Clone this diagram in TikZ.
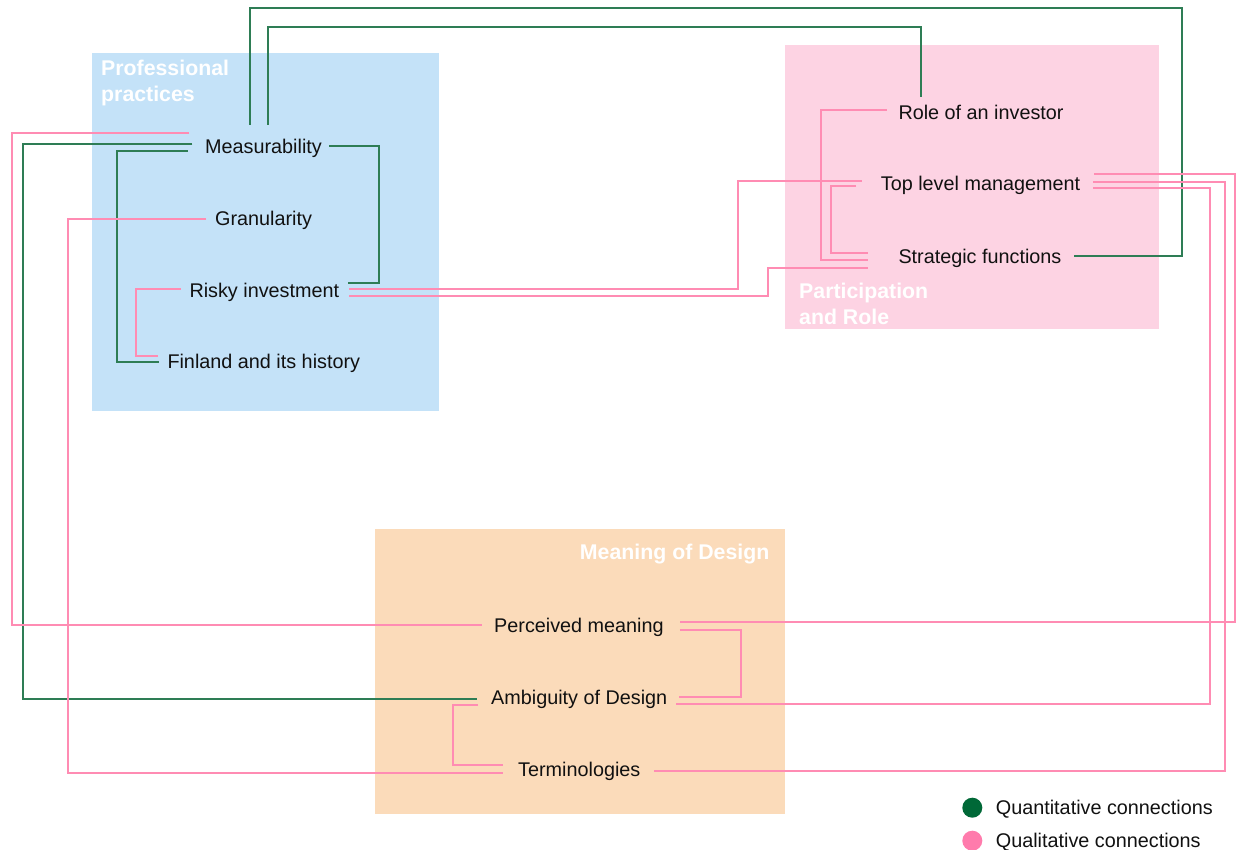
\documentclass[tikz,border=0pt]{standalone}
\usepackage{fontspec}
\setmainfont{Liberation Sans}
\usetikzlibrary{calc}
\definecolor{qgreen}{HTML}{2E7D55}
\definecolor{qpink}{HTML}{FF8CB3}
\definecolor{dotgreen}{HTML}{006837}
\definecolor{dotpink}{HTML}{FF7BAC}
\definecolor{boxblue}{HTML}{C4E2F8}
\definecolor{boxpink}{HTML}{FDD3E3}
\definecolor{boxorange}{HTML}{FBDBBA}
\definecolor{ink}{HTML}{111111}
\begin{document}
\begin{tikzpicture}[x=1pt,y=-1pt,
  txt/.style={inner sep=0pt, font=\fontsize{19.8}{24}\selectfont, text=ink, anchor=base west},
  ttl/.style={inner sep=0pt, font=\fontsize{21.3}{26}\selectfont\bfseries, text=white, align=left},
  quant/.style={draw=qgreen, line width=1.7pt},
  qual/.style={draw=qpink, line width=1.7pt},
  dot/.style={circle, inner sep=0pt, minimum size=20pt}]
\useasboundingbox (0,0) rectangle (1240,850);
\fill[white] (0,0) rectangle (1240,850);
% group areas
\fill[boxblue] (92.3,52.7) rectangle (439.3,410.7);
\fill[boxpink] (784.5,45.5) rectangle (1159,329.5);
\fill[boxorange] (375,529) rectangle (785,814);
% group titles
\node[ttl, anchor=north west] (ttlpp) at (101,60) {Professional\\practices};
\node[ttl, anchor=north west] (ttlpr) at (799,283) {Participation\\and Role};
\node[ttl, anchor=base east] (ttlmd) at (769.5,559.3) {Meaning of Design};
% nodes
\node[txt] (meas) at (205,153.5) {Measurability};
\node[txt] (gran) at (215,225.5) {Granularity};
\node[txt] (risky) at (189.3,297.2) {Risky investment};
\node[txt] (fin) at (167.3,368.8) {Finland and its history};
\node[txt] (role) at (898.3,119.8) {Role of an investor};
\node[txt] (toplm) at (880.7,190.8) {Top level management};
\node[txt] (strat) at (898.3,263.8) {Strategic functions};
\node[txt] (perc) at (494,632.5) {Perceived meaning};
\node[txt] (amb) at (491,704.5) {Ambiguity of Design};
\node[txt] (term) at (518,776.5) {Terminologies};
% quantitative connections
\draw[quant] ($(meas.base west)+(45,-28.5)$) |- (1181.7,7.7) |- ($(strat.base east)+(12.3,-7.5)$);
\draw[quant] ($(meas.base west)+(63,-28.5)$) |- (920.7,26.7) -| ($(role.base west)+(22.4,-23.1)$);
\draw[quant] ($(meas.base west)+(-12.7,-9.5)$) -| (22.7,699) |- ($(amb.base west)+(-14,-5.5)$);
\draw[quant] ($(meas.base west)+(-17.3,-2.8)$) -| (117,361.7) |- ($(fin.base west)+(-8.3,-7.1)$);
\draw[quant] ($(meas.base east)+(7,-7.5)$) -| (379,283.3) |- ($(risky.base east)+(8.4,-13.9)$);
% qualitative connections
\draw[qual] ($(meas.base west)+(-15.7,-20.2)$) -| (11.7,625) |- ($(perc.base west)+(-12,-7.5)$);
\draw[qual] ($(gran.base west)+(-9,-6.2)$) -| (67.7,772.7) |- ($(term.base west)+(-15,-3.8)$);
\draw[qual] ($(risky.base west)+(-8.6,-7.9)$) -| (136,356) |- ($(fin.base west)+(-9.6,-12.8)$);
\draw[qual] ($(risky.base east)+(10,-7.9)$) -| (738.3,180.7) |- ($(toplm.base west)+(-18.4,-10.1)$);
\draw[qual] ($(risky.base east)+(10,-1.2)$) -| (768.3,267.7) |- ($(strat.base west)+(-30,3.9)$);
\draw[qual] ($(role.base west)+(-11.6,-9.5)$) -| (821,260) |- ($(strat.base west)+(-30.3,-3.8)$);
\draw[qual] ($(toplm.base west)+(-24.7,-4.8)$) -| (831,252.7) |- ($(strat.base west)+(-30.3,-11.1)$);
\draw[qual] ($(toplm.base east)+(14,-16.5)$) -| (1235,622.3) |- ($(perc.base east)+(16,-10.2)$);
\draw[qual] ($(toplm.base east)+(13,-8.8)$) -| (1225.3,770.7) |- ($(term.base east)+(13,-5.8)$);
\draw[qual] ($(toplm.base east)+(13,-3.1)$) -| (1209.7,703.7) |- ($(amb.base east)+(9,-0.8)$);
\draw[qual] ($(perc.base east)+(16,-2.8)$) -| (740.7,696.7) |- ($(amb.base east)+(12,-7.8)$);
\draw[qual] ($(amb.base west)+(-13,0.5)$) -| (453,765) |- ($(term.base west)+(-15,-11.5)$);
% legend
\node[dot, fill=dotgreen] (lgq) at (972.3,807.7) {};
\node[txt] (lgqt) at (995.7,814.8) {Quantitative connections};
\node[dot, fill=dotpink] (lgl) at (972.3,840.7) {};
\node[txt] (lglt) at (995.7,847.8) {Qualitative connections};
\end{tikzpicture}
\end{document}
